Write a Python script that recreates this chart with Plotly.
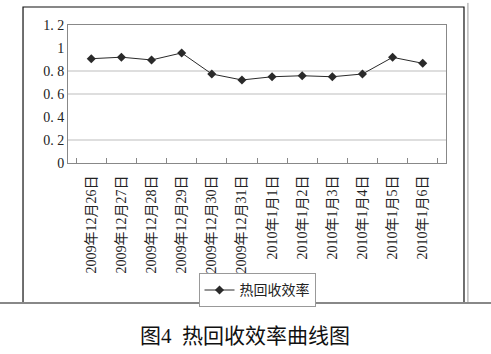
import plotly.graph_objects as go

dates = ["2009年12月26日", "2009年12月27日", "2009年12月28日", "2009年12月29日",
         "2009年12月30日", "2009年12月31日", "2010年1月1日", "2010年1月2日",
         "2010年1月3日", "2010年1月4日", "2010年1月5日", "2010年1月6日"]
efficiency = [0.907, 0.920, 0.896, 0.957, 0.774, 0.722, 0.750, 0.759, 0.750, 0.774, 0.919, 0.867]
y_ticks = [0, 0.2, 0.4, 0.6, 0.8, 1.0, 1.2]
y_labels = ["0", "0. 2", "0. 4", "0. 6", "0. 8", "1", "1. 2"]
grid_levels = [0.2, 0.6, 0.8]
series_name = "热回收效率"
caption = "图4  热回收效率曲线图"

serif = "Liberation Serif, Noto Sans CJK SC, serif"

fig = go.Figure()
fig.add_trace(go.Scatter(
    x=dates, y=efficiency, mode="lines+markers", name=series_name,
    line=dict(color="#2a2a2a", width=1),
    marker=dict(symbol="diamond", size=7, color="#2a2a2a"),
))

for g in grid_levels:
    fig.add_shape(type="line", xref="paper", x0=0, x1=1, yref="y", y0=g, y1=g,
                  line=dict(color="#bdbdbd", width=1), layer="below")

# outer chart frame
fig.add_shape(type="rect", xref="paper", yref="paper",
              x0=-0.119, x1=1.0476, y0=-1.0145, y1=1.1304,
              line=dict(color="#111111", width=1.2))
fig.add_shape(type="line", xref="paper", yref="paper",
              x0=1.058, x1=1.058, y0=-1.0145, y1=1.16,
              line=dict(color="#999999", width=1))
fig.add_shape(type="line", xref="paper", yref="paper",
              x0=-0.2, x1=1.3, y0=-1.0145, y1=-1.0145,
              line=dict(color="#888888", width=2))

fig.add_annotation(text=caption, xref="paper", yref="paper", x=0.468, y=-1.2536,
                   showarrow=False, font=dict(family=serif, size=21, color="#111"),
                   xanchor="center", yanchor="middle")

fig.update_layout(
    width=491, height=354,
    margin=dict(l=68, r=45, t=25, b=191),
    paper_bgcolor="white", plot_bgcolor="white",
    showlegend=True,
    legend=dict(x=0.5, xanchor="center", y=-0.80, yanchor="top",
                bordercolor="#999999", borderwidth=1,
                font=dict(family=serif, size=14, color="#222"),
                bgcolor="white"),
    font=dict(family=serif, color="#222"),
)
fig.update_xaxes(
    type="category", tickangle=-90, ticks="inside", tickson="boundaries",
    ticklen=5, tickcolor="#888", showgrid=False, showline=True,
    linecolor="#888", mirror=True, ticklabelstandoff=6,
    tickfont=dict(family=serif, size=14, color="#222"),
)
fig.update_yaxes(
    range=[0, 1.2], tickvals=y_ticks, ticktext=y_labels, showgrid=False,
    showline=True, linecolor="#888", mirror=True, ticks="",
    tickfont=dict(family=serif, size=14, color="#222"), zeroline=False,
)

fig.write_html("out.html")
